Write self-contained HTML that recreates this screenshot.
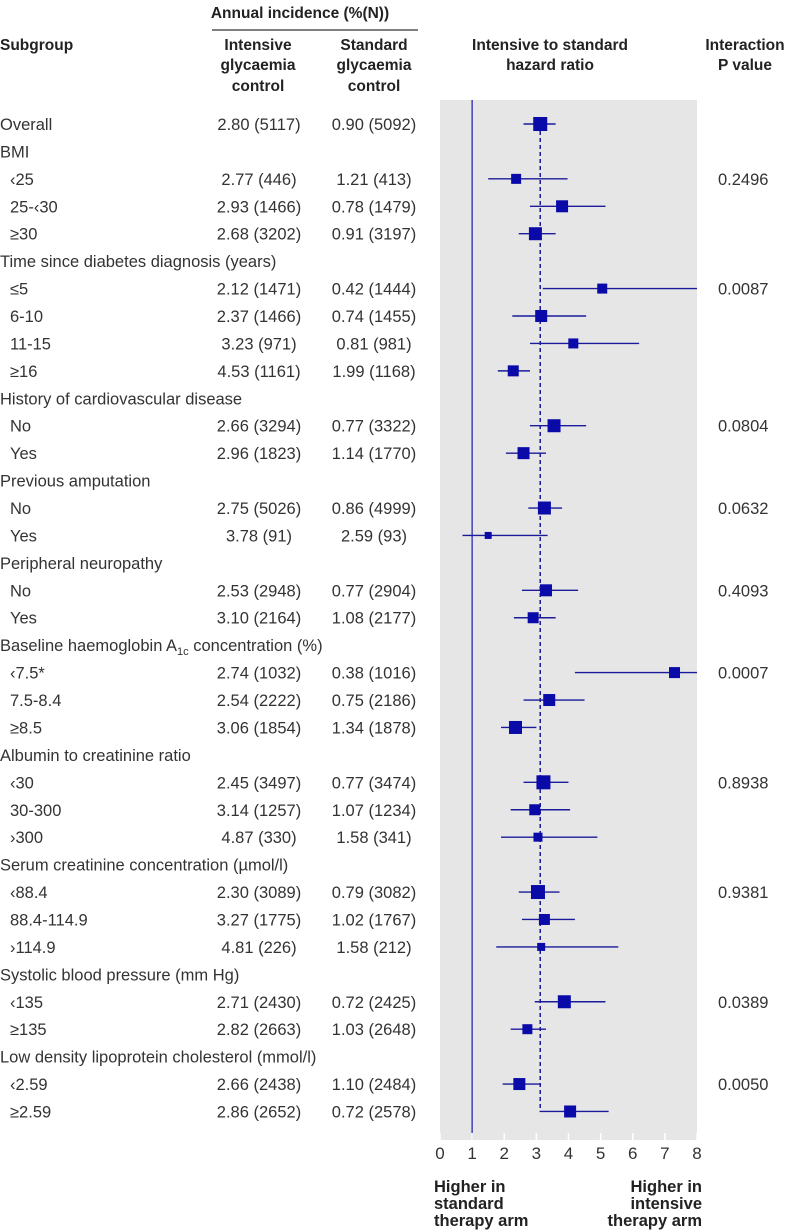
<!DOCTYPE html>
<html><head><meta charset="utf-8"><style>
body{margin:0;background:#fff;}
svg{display:block;font-family:"Liberation Sans",sans-serif;}
</style></head><body>
<svg id="chart" width="790" height="1230" viewBox="0 0 790 1230" xmlns="http://www.w3.org/2000/svg">
<g font-weight="bold" font-size="15.5" fill="#222">
<text x="300" y="18" text-anchor="middle">Annual incidence (%(N))</text>
<line x1="212" y1="30" x2="418" y2="30" stroke="#333" stroke-width="1.3"/>
<text x="0" y="50">Subgroup</text>
<text text-anchor="middle"><tspan x="258" y="50">Intensive</tspan><tspan x="258" y="70">glycaemia</tspan><tspan x="258" y="91">control</tspan></text>
<text text-anchor="middle"><tspan x="374" y="50">Standard</tspan><tspan x="374" y="70">glycaemia</tspan><tspan x="374" y="91">control</tspan></text>
<text text-anchor="middle"><tspan x="550" y="50">Intensive to standard</tspan><tspan x="550" y="70">hazard ratio</tspan></text>
<text text-anchor="middle"><tspan x="745" y="50">Interaction</tspan><tspan x="745" y="70">P value</tspan></text>
</g>
<rect x="440" y="100" width="257" height="1040" fill="#e6e6e6"/>
<g id="rows"></g>
<g id="axis"></g>
<g font-weight="bold" font-size="16.5" fill="#222">
<text><tspan x="434" y="1192">Higher in</tspan><tspan x="434" y="1209">standard</tspan><tspan x="434" y="1226">therapy arm</tspan></text>
<text text-anchor="end"><tspan x="702" y="1192">Higher in</tspan><tspan x="702" y="1209">intensive</tspan><tspan x="702" y="1226">therapy arm</tspan></text>
</g>
</svg>
<script>
const labels=["Overall","BMI","‹25","25-‹30","≥30","Time since diabetes diagnosis (years)","≤5","6-10","11-15","≥16","History of cardiovascular disease","No","Yes","Previous amputation","No","Yes","Peripheral neuropathy","No","Yes","Baseline haemoglobin A1c concentration (%)","‹7.5*","7.5-8.4","≥8.5","Albumin to creatinine ratio","‹30","30-300","›300","Serum creatinine concentration (µmol/l)","‹88.4","88.4-114.9","›114.9","Systolic blood pressure (mm Hg)","‹135","≥135","Low density lipoprotein cholesterol (mmol/l)","‹2.59","≥2.59"];
const isHeader=[0,1,0,0,0,1,0,0,0,0,1,0,0,1,0,0,1,0,0,1,0,0,0,1,0,0,0,1,0,0,0,1,0,0,1,0,0];
const intensive=["2.80 (5117)","","2.77 (446)","2.93 (1466)","2.68 (3202)","","2.12 (1471)","2.37 (1466)","3.23 (971)","4.53 (1161)","","2.66 (3294)","2.96 (1823)","","2.75 (5026)","3.78 (91)","","2.53 (2948)","3.10 (2164)","","2.74 (1032)","2.54 (2222)","3.06 (1854)","","2.45 (3497)","3.14 (1257)","4.87 (330)","","2.30 (3089)","3.27 (1775)","4.81 (226)","","2.71 (2430)","2.82 (2663)","","2.66 (2438)","2.86 (2652)"];
const standard=["0.90 (5092)","","1.21 (413)","0.78 (1479)","0.91 (3197)","","0.42 (1444)","0.74 (1455)","0.81 (981)","1.99 (1168)","","0.77 (3322)","1.14 (1770)","","0.86 (4999)","2.59 (93)","","0.77 (2904)","1.08 (2177)","","0.38 (1016)","0.75 (2186)","1.34 (1878)","","0.77 (3474)","1.07 (1234)","1.58 (341)","","0.79 (3082)","1.02 (1767)","1.58 (212)","","0.72 (2425)","1.03 (2648)","","1.10 (2484)","0.72 (2578)"];
const hr=[3.12,null,2.37,3.8,2.97,null,5.05,3.15,4.15,2.28,null,3.55,2.6,null,3.25,1.5,null,3.3,2.9,null,7.3,3.4,2.35,null,3.22,2.95,3.05,null,3.05,3.25,3.15,null,3.87,2.72,null,2.47,4.05];
const lo=[2.6,null,1.5,2.8,2.45,null,3.2,2.25,2.8,1.8,null,2.8,2.05,null,2.75,0.7,null,2.55,2.3,null,4.2,2.6,1.9,null,2.6,2.2,1.9,null,2.45,2.55,1.75,null,2.95,2.2,null,1.95,3.1];
const hi=[3.6,null,3.97,5.15,3.6,null,8,4.55,6.2,2.8,null,4.55,3.3,null,3.8,3.35,null,4.3,3.6,null,8,4.5,3.0,null,4.0,4.05,4.9,null,3.72,4.2,5.55,null,5.15,3.3,null,3.1,5.25];
const weight=[14,null,10,12,13,null,10,12,10,11,null,13,12,null,13,7,null,12,11,null,11,12,13,null,14,11,9,null,14,11,8,null,13,10,null,12,12];
const pvals=["","","0.2496","","","","0.0087","","","","","0.0804","","","0.0632","","","0.4093","","","0.0007","","","","0.8938","","","","0.9381","","","","0.0389","","","0.0050",""];
const ticks=[0,1,2,3,4,5,6,7,8];
const overallHR=3.12, nullHR=1;

const NS="http://www.w3.org/2000/svg";
const X0=440,X1=697;
const xs=v=>X0+(v/8)*(X1-X0);
const ys=i=>124+i*27.43;
const rows=document.getElementById('rows');
const axis=document.getElementById('axis');
function mk(tag,attrs,parent){const e=document.createElementNS(NS,tag);for(const k in attrs)e.setAttribute(k,attrs[k]);parent.appendChild(e);return e;}
const col="#0a0aa8";
const FS=16.5;
let l1=mk('line',{x1:xs(nullHR),x2:xs(nullHR),y1:100,y2:1140,stroke:"#2a2ab0","stroke-width":1.3},rows);


let l2=mk('line',{x1:xs(overallHR),x2:xs(overallHR),y1:ys(0),y2:ys(36),stroke:"#1a1a90","stroke-width":1.5,"stroke-dasharray":"4,3"},rows);


labels.forEach((lab,i)=>{
  const y=ys(i);
  const g=mk('g',{},rows);
  
  
  const t=mk('text',{x:(isHeader[i]||i===0)?0:10,y:y+6,"font-size":FS,fill:"#333"},g);
  if(lab.indexOf('A1c')>=0){t.textContent="Baseline haemoglobin A";const s=mk('tspan',{"font-size":11,dy:4},t);s.textContent="1c";const s2=mk('tspan',{dy:-4},t);s2.textContent=" concentration (%)";}
  else t.textContent=lab;
  
  
  if(intensive[i]){const a=mk('text',{x:259,y:y+6,"font-size":FS,fill:"#333","text-anchor":"middle"},g);a.textContent=intensive[i];
    
    }
  if(standard[i]){const b=mk('text',{x:374,y:y+6,"font-size":FS,fill:"#333","text-anchor":"middle"},g);b.textContent=standard[i];
    
    }
  if(pvals[i]){const p=mk('text',{x:718,y:y+6,"font-size":FS,fill:"#333"},g);p.textContent=pvals[i];
    
    }
  if(hr[i]!==null){
    const ci=mk('line',{x1:xs(lo[i]),x2:xs(hi[i]),y1:y,y2:y,stroke:"#1a1a9a","stroke-width":1.4},g);
    
    
    const w=weight[i];
    const sq=mk('rect',{x:xs(hr[i])-w/2,y:y-w/2,width:w,height:w,fill:col},g);
    
    
  }
});
ticks.forEach(t=>{
  const tk=mk('line',{x1:xs(t),x2:xs(t),y1:1133,y2:1140,stroke:"#fff","stroke-width":1.5},axis);
  
  
  const tl=mk('text',{x:xs(t),y:1159,"font-size":17,fill:"#333","text-anchor":"middle"},axis);
  tl.textContent=t;
  
  
});
</script>
</body></html>
